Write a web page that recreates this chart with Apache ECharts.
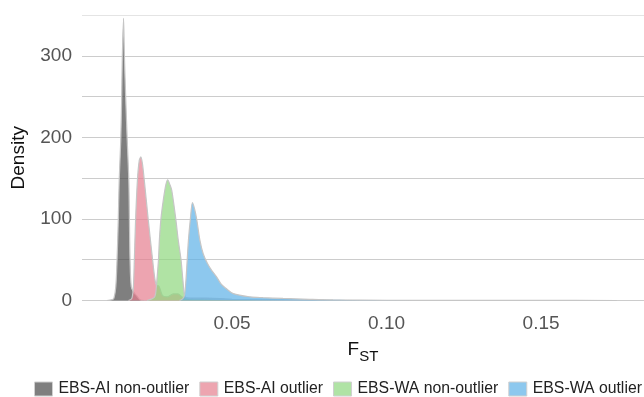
<!DOCTYPE html>
<html>
<head>
<meta charset="utf-8">
<script src="https://cdn.jsdelivr.net/npm/echarts@6/dist/echarts.min.js"></script>
<style>
    html, body { margin: 0; padding: 0; background: #fff; }
    #chart { width: 644px; height: 397px; }
</style>
</head>
<body>
<div id="chart"></div>
<script>
// legend names
const seriesNames = ['EBS-AI non-outlier', 'EBS-AI outlier', 'EBS-WA non-outlier', 'EBS-WA outlier'];

// EBS-AI non-outlier density curve
const aiNonFst = [0.0095, 0.0112, 0.0118, 0.0124, 0.0128, 0.0132, 0.0135, 0.0140, 0.0143, 0.0145, 0.0149, 0.0152, 0.0156, 0.0161, 0.0166, 0.0168, 0.0170, 0.0174, 0.0182, 0.0191, 0.0202, 0.0215];
const aiNonDensity = [0, 1, 3, 17, 50, 99, 148, 196, 249, 298, 346, 298, 249, 196, 148, 99, 50, 17, 10, 6, 1, 0];

// EBS-AI outlier density curve
const aiOutFst = [0.0165, 0.0175, 0.0178, 0.0181, 0.0184, 0.0188, 0.0194, 0.0200, 0.0205, 0.0210, 0.0216, 0.0229, 0.0243, 0.0251, 0.0257, 0.0262, 0.0275, 0.0290, 0.0310, 0.0325, 0.0340, 0.0370, 0.0420, 0.0500, 0.0700, 0.0900];
const aiOutDensity = [0, 2, 6, 17, 50, 99, 148, 172, 176, 168, 148, 99, 50, 25, 18, 18, 6, 4.5, 8, 8, 4, 3, 3, 1.5, 0.5, 0];

// EBS-WA non-outlier density curve
const waNonFst = [0.0225, 0.0240, 0.0249, 0.0253, 0.0257, 0.0262, 0.0265, 0.0270, 0.0278, 0.0286, 0.0292, 0.0298, 0.0305, 0.0318, 0.0326, 0.0335, 0.0341, 0.0346, 0.0352, 0.0400, 0.0500, 0.0600, 0.0800];
const waNonDensity = [0, 2, 4, 9, 25, 50, 74, 100, 124, 142, 148, 143, 135, 100, 74, 50, 25, 7, 3, 2, 1, 0.5, 0];

// EBS-WA outlier density curve
const waOutFst = [0.0330, 0.0340, 0.0346, 0.0351, 0.0355, 0.0359, 0.0365, 0.0372, 0.0379, 0.0386, 0.0396, 0.0407, 0.0421, 0.0434, 0.0450, 0.0465, 0.0480, 0.0504, 0.0558, 0.0600, 0.0665, 0.0750, 0.0827, 0.1000, 0.1200, 0.1500, 0.1745];
const waOutDensity = [0, 2, 6, 25, 50, 74, 99, 120, 112, 99, 74, 57, 45, 37, 29, 20, 15, 8.5, 4.5, 3.5, 2.5, 1.5, 0.8, 0.3, 0.15, 0.1, 0];

// tick labels
const xTicks = [0.05, 0.10, 0.15];
const yLabelTicks = [0, 100, 200, 300];

const fillColors = ['rgba(72,72,72,0.7)', 'rgba(229,126,142,0.7)', 'rgba(142,215,126,0.7)', 'rgba(92,176,231,0.7)'];
const swatchColors = ['#7f7f7f', '#eda5b0', '#b0e3a5', '#8dc8ee'];
const curves = [
    [aiNonFst, aiNonDensity],
    [aiOutFst, aiOutDensity],
    [waNonFst, waNonDensity],
    [waOutFst, waOutDensity],
];

const FONT = '"Liberation Sans", Arial, Helvetica, sans-serif';

function zip(xs, ys) {
    return xs.map((x, i) => [x, ys[i]]);
}

const series = curves.map(([xs, ys], index) => ({
    name: seriesNames[index],
    type: 'line',
    data: zip(xs, ys),
    smooth: 0.3,
    symbol: 'none',
    color: swatchColors[index],
    lineStyle: { color: '#c6c6c6', width: 1.2 },
    areaStyle: { color: fillColors[index], opacity: 1 },
    emphasis: { disabled: true },
    z: 2 + index,
}));

const chart = echarts.init(document.getElementById('chart'), null, { renderer: 'canvas' });
chart.setOption({
    animation: false,
    textStyle: { fontFamily: FONT },
    grid: { left: 82, right: 0, top: 15, bottom: 96.5, outerBoundsMode: 'none', containLabel: false },
    legend: {
        data: seriesNames.map((name, i) => ({
            name,
            icon: 'rect',
            itemStyle: { color: swatchColors[i], borderColor: '#d0d0d0', borderWidth: 1 },
        })),
        left: 34,
        top: 381,
        width: 900,
        itemWidth: 18,
        itemHeight: 14,
        itemGap: 10,
        padding: 0,
        textStyle: { fontFamily: FONT, fontSize: 15.8, color: '#222', padding: [0, 0, 0, 1] },
    },
    xAxis: {
        type: 'value',
        min: 0.00146,
        max: 0.1833,
        axisLine: { show: false },
        axisTick: { show: false },
        splitLine: { show: false },
        axisLabel: {
            customValues: xTicks,
            formatter: v => v.toFixed(2),
            color: '#555',
            fontSize: 19,
            fontFamily: FONT,
            margin: 14,
        },
        name: '{f|F}{s|ST}',
        nameLocation: 'middle',
        nameGap: 35,
        nameTextStyle: {
            rich: {
                f: { fontSize: 19, color: '#111', fontFamily: FONT },
                s: { fontSize: 15, color: '#111', fontFamily: FONT, verticalAlign: 'bottom', padding: [14, 0, 0, 0] },
            },
        },
    },
    yAxis: {
        type: 'value',
        min: 0,
        max: 350,
        interval: 50,
        axisLine: { show: false },
        axisTick: { show: false },
        splitLine: {
            lineStyle: {
                color: ['#cccccc', '#cccccc', '#cccccc', '#cccccc', '#cccccc', '#cccccc', '#cccccc', '#e4e4e4'],
                width: 1,
            },
        },
        axisLabel: {
            formatter: v => (yLabelTicks.includes(v) ? String(v) : ''),
            color: '#555',
            fontSize: 19,
            fontFamily: FONT,
            margin: 10,
        },
        name: 'Density',
        nameLocation: 'middle',
        nameGap: 54,
        nameTextStyle: { fontSize: 19, color: '#111', fontFamily: FONT },
    },
    series,
});
</script>
</body>
</html>
